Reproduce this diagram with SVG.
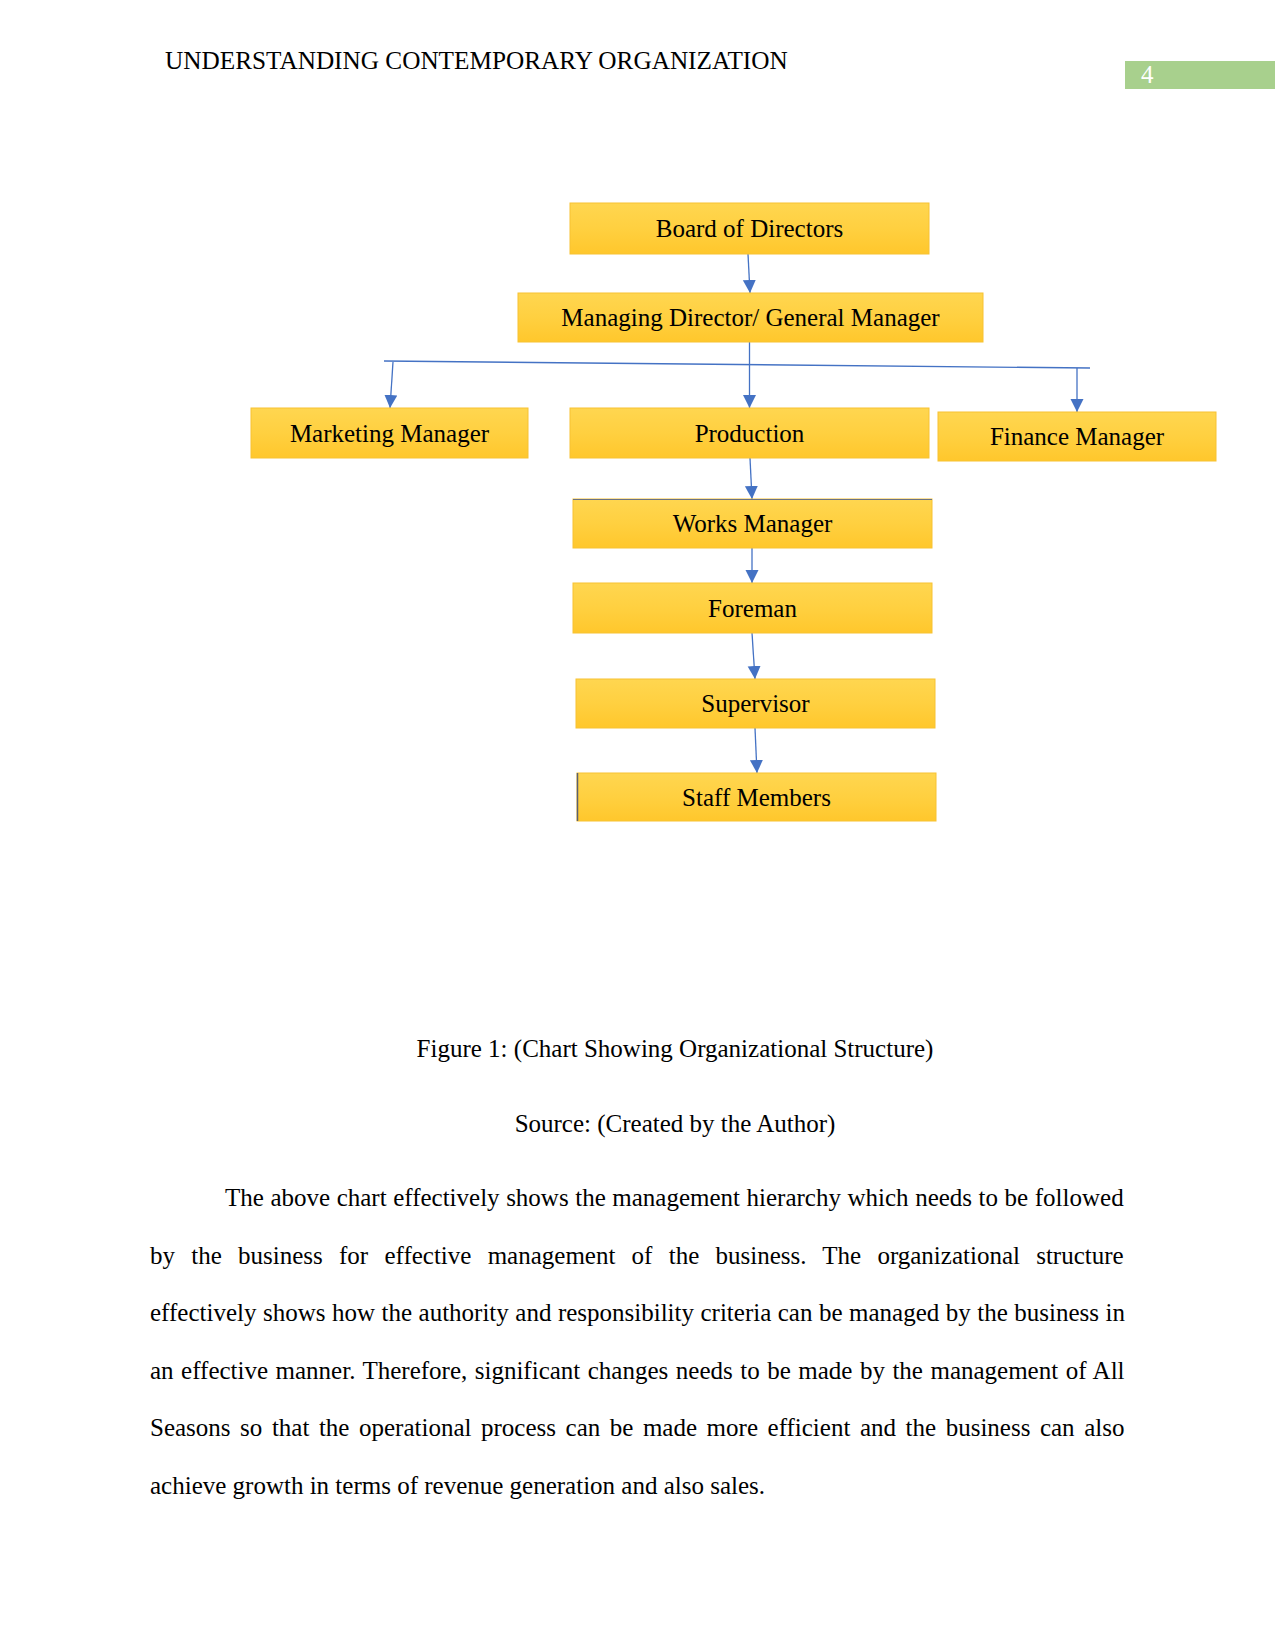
<svg xmlns="http://www.w3.org/2000/svg" width="1275" height="1651" viewBox="0 0 1275 1651">
<style>
  .t { font-family: "Liberation Serif", "Times New Roman", serif; font-size: 25px; fill: #000; }
  .c { text-anchor: middle; }
  .box { fill: url(#gold); stroke: #F7C233; stroke-width: 1; }
  .conn { fill: none; stroke: #4472C4; stroke-width: 1.3; }
</style>
<defs>
  <linearGradient id="gold" x1="0" y1="0" x2="0" y2="1">
    <stop offset="0" stop-color="#FFD650"/>
    <stop offset="0.5" stop-color="#FFD040"/>
    <stop offset="1" stop-color="#FFC72C"/>
  </linearGradient>
  <marker id="arr" markerUnits="userSpaceOnUse" markerWidth="15" markerHeight="15" refX="13" refY="6.5" orient="auto">
    <path d="M0,0 L13,6.5 L0,13 Z" fill="#4472C4"/>
  </marker>
</defs>
<rect width="1275" height="1651" fill="#fff"/>

<g id="header">
  <text class="t" x="165" y="69" style="font-size:25.25px">UNDERSTANDING CONTEMPORARY ORGANIZATION</text>
  <rect x="1125" y="61" width="150" height="28" fill="#A8D08D"/>
  <text class="t" x="1141" y="83" style="fill:#fff">4</text>
</g>

<g id="connectors">
  <line class="conn" x1="748" y1="254" x2="750" y2="293" marker-end="url(#arr)"/>
  <line class="conn" x1="749.5" y1="342" x2="749.5" y2="408" marker-end="url(#arr)"/>
  <line class="conn" x1="384" y1="361" x2="1090" y2="368"/>
  <line class="conn" x1="393" y1="362" x2="390" y2="408" marker-end="url(#arr)"/>
  <line class="conn" x1="1077" y1="368" x2="1077" y2="412" marker-end="url(#arr)"/>
  <line class="conn" x1="750" y1="458" x2="752" y2="499" marker-end="url(#arr)"/>
  <line class="conn" x1="752" y1="548" x2="752" y2="583" marker-end="url(#arr)"/>
  <line class="conn" x1="752" y1="633" x2="755" y2="679" marker-end="url(#arr)"/>
  <line class="conn" x1="755" y1="728" x2="757" y2="773" marker-end="url(#arr)"/>
</g>

<g id="board">
  <rect class="box" x="570" y="203" width="359" height="51"/>
  <text class="t c" x="749.5" y="237">Board of Directors</text>
</g>
<g id="md">
  <rect class="box" x="518" y="293" width="465" height="49"/>
  <text class="t c" x="750.5" y="326">Managing Director/ General Manager</text>
</g>
<g id="marketing">
  <rect class="box" x="251" y="408" width="277" height="50"/>
  <text class="t c" x="389.5" y="441.5">Marketing Manager</text>
</g>
<g id="production">
  <rect class="box" x="570" y="408" width="359" height="50"/>
  <text class="t c" x="749.5" y="441.5">Production</text>
</g>
<g id="finance">
  <rect class="box" x="938" y="412" width="278" height="49"/>
  <text class="t c" x="1077" y="445">Finance Manager</text>
</g>
<g id="works">
  <rect class="box" x="573" y="499" width="359" height="49"/>
  <line x1="573" y1="499.5" x2="932" y2="499.5" stroke="#6B7383" stroke-width="1.2"/>
  <text class="t c" x="752.5" y="532">Works Manager</text>
</g>
<g id="foreman">
  <rect class="box" x="573" y="583" width="359" height="50"/>
  <text class="t c" x="752.5" y="616.5">Foreman</text>
</g>
<g id="supervisor">
  <rect class="box" x="576" y="679" width="359" height="49"/>
  <text class="t c" x="755.5" y="712">Supervisor</text>
</g>
<g id="staff">
  <rect class="box" x="577" y="773" width="359" height="48"/>
  <line x1="577.5" y1="773" x2="577.5" y2="821" stroke="#5A6070" stroke-width="1.5"/>
  <text class="t c" x="756.5" y="805.5">Staff Members</text>
</g>

<g id="caption">
  <text class="t c" x="675" y="1057">Figure 1: (Chart Showing Organizational Structure)</text>
  <text class="t c" x="675" y="1132">Source: (Created by the Author)</text>
</g>

<g id="body">
  <text class="t" x="225" y="1206" word-spacing="0.3">The above chart effectively shows the management hierarchy which needs to be followed</text>
  <text class="t" x="150" y="1263.5" word-spacing="10.0">by the business for effective management of the business. The organizational structure</text>
  <text class="t" x="150" y="1321" word-spacing="0.25">effectively shows how the authority and responsibility criteria can be managed by the business in</text>
  <text class="t" x="150" y="1378.5" word-spacing="1.25">an effective manner. Therefore, significant changes needs to be made by the management of All</text>
  <text class="t" x="150" y="1436" word-spacing="3.3">Seasons so that the operational process can be made more efficient and the business can also</text>
  <text class="t" x="150" y="1493.5">achieve growth in terms of revenue generation and also sales.</text>
</g>
</svg>
